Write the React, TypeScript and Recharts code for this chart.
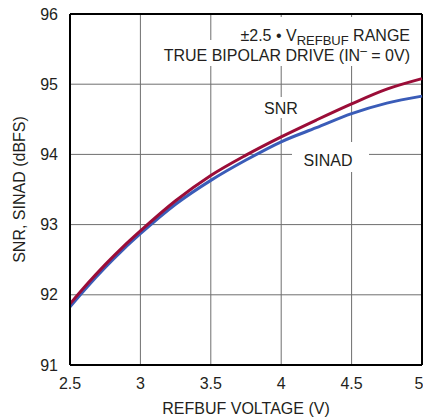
import React from 'react';
import {
  LineChart, Line, XAxis, YAxis, CartesianGrid, ReferenceLine, Customized
} from 'recharts';

const voltage = [2.5, 2.625, 2.75, 2.875, 3, 3.25, 3.5, 3.75, 4, 4.25, 4.5, 4.75, 5];
const snr = [91.87, 92.16, 92.43, 92.68, 92.91, 93.34, 93.7, 93.99, 94.25, 94.49, 94.72, 94.93, 95.08];
const sinad = [91.83, 92.12, 92.39, 92.64, 92.87, 93.29, 93.63, 93.92, 94.18, 94.38, 94.58, 94.73, 94.83];
const xTicks = [2.5, 3, 3.5, 4, 4.5, 5];
const yTicks = [91, 92, 93, 94, 95, 96];

const FONT = "'Liberation Sans Narrow', 'Arial Narrow', 'Liberation Sans', Arial, sans-serif";
const INK = '#231f20';

const data = voltage.map((v, i) => ({ v, snr: snr[i], sinad: sinad[i] }));

// text labels with white boxes that break the grid, like the datasheet plot
const Annotations = () => (
  <g fontFamily={FONT} fontSize={16} fill={INK}>
    <rect x={240} y={17} width={176} height={27} fill="#fff" />
    <rect x={160} y={40} width={256} height={26} fill="#fff" />
    <rect x={260} y={97} width={42} height={21} fill="#fff" />
    <rect x={292} y={142} width={77} height={30} fill="#fff" />
    <text x={410} y={41} textAnchor="end">
      ±2.5 • V<tspan fontSize={13} dy={4}>REFBUF</tspan><tspan dy={-4}> RANGE</tspan>
    </text>
    <text x={410} y={61} textAnchor="end">
      TRUE BIPOLAR DRIVE (IN<tspan dy={-6} fontSize={12}>–</tspan><tspan dy={6}> = 0V)</tspan>
    </text>
    <text x={281} y={114} textAnchor="middle">SNR</text>
    <text x={328} y={166} textAnchor="middle">SINAD</text>
  </g>
);

const App: React.FC = () => {
  return (
    <div style={{ position: 'absolute', left: 0, top: 0, width: 423, height: 417, background: '#fff' }}>
      <LineChart width={423} height={417} data={data} margin={{ top: 14, right: 1, left: 0, bottom: 0 }}>
        <CartesianGrid stroke="#6e6e6e" strokeWidth={1} />
        <Customized component={Annotations} />
        <XAxis
          dataKey="v"
          type="number"
          domain={[2.5, 5]}
          ticks={xTicks}
          height={52}
          tickLine={false}
          tickSize={0}
          tickMargin={13}
          axisLine={{ stroke: '#000', strokeWidth: 2 }}
          tick={{ fill: INK, fontSize: 16, fontFamily: FONT }}
          label={{ value: 'REFBUF VOLTAGE (V)', position: 'insideBottom', offset: 3, fill: INK, fontSize: 16, fontFamily: FONT }}
        />
        <YAxis
          type="number"
          domain={[91, 96]}
          ticks={yTicks}
          width={70}
          tickLine={false}
          tickSize={0}
          tickMargin={12}
          axisLine={{ stroke: '#000', strokeWidth: 2 }}
          tick={{ fill: INK, fontSize: 16, fontFamily: FONT }}
          label={{
            content: ({ viewBox }: any) => {
              const cx = viewBox.x + 19;
              const cy = viewBox.y + viewBox.height / 2;
              return (
                <text x={cx} y={cy} transform={`rotate(-90, ${cx}, ${cy})`} textAnchor="middle"
                  dominantBaseline="central" fill={INK} fontSize={16} fontFamily={FONT}>
                  SNR, SINAD (dBFS)
                </text>
              );
            },
          }}
        />
        <ReferenceLine y={96} stroke="#000" strokeWidth={2} />
        <ReferenceLine x={5} stroke="#000" strokeWidth={2} />
        <Line type="monotone" dataKey="sinad" stroke="#3a5cb8" strokeWidth={3} dot={false} isAnimationActive={false} />
        <Line type="monotone" dataKey="snr" stroke="#9b0d38" strokeWidth={3} dot={false} isAnimationActive={false} />
      </LineChart>
    </div>
  );
};

export default App;
